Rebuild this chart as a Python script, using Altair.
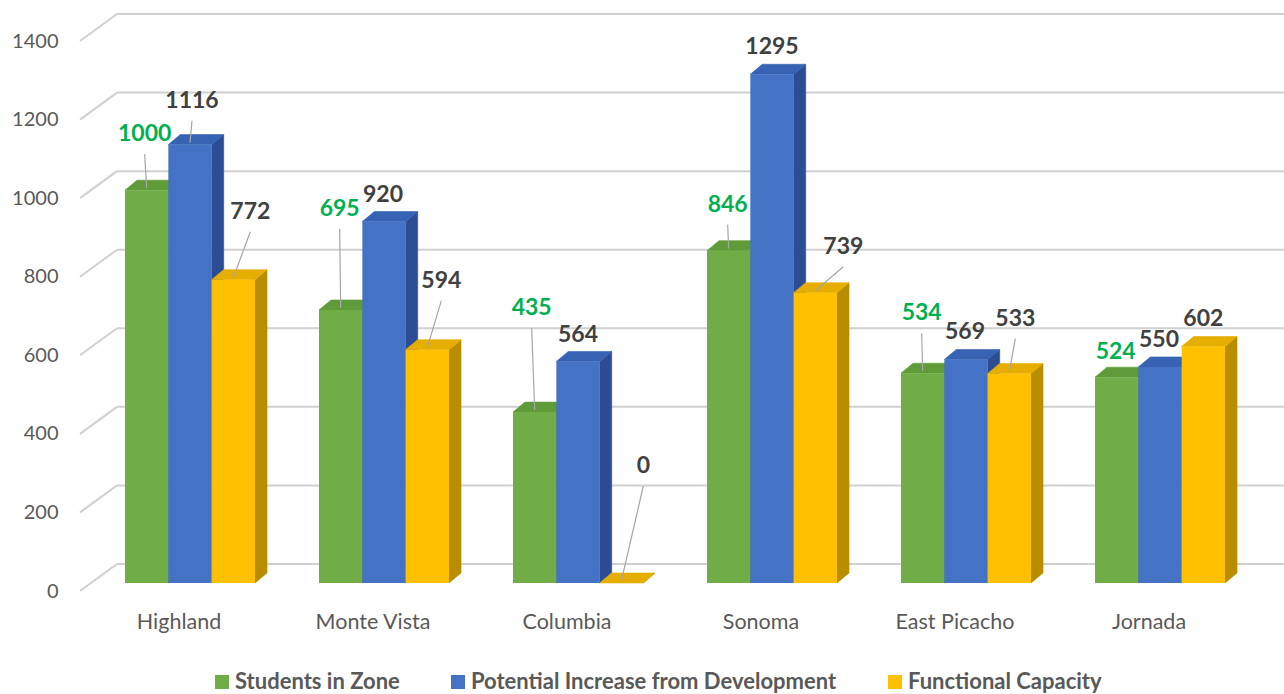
import altair as alt
import pandas as pd

# ---------------- data ----------------
categories = ["Highland", "Monte Vista", "Columbia", "Sonoma", "East Picacho", "Jornada"]
series_names = ["Students in Zone", "Potential Increase from Development", "Functional Capacity"]
students = [1000, 695, 435, 846, 534, 524]
potential = [1116, 920, 564, 1295, 569, 550]
capacity = [772, 594, 0, 739, 533, 602]
y_ticks = [0, 200, 400, 600, 800, 1000, 1200, 1400]

# ---------------- style ----------------
front_colors = ["#70AD47", "#4472C4", "#FFC000"]
top_colors = ["#5F9C39", "#3763B4", "#E6AE00"]
side_colors = ["#4B7F2D", "#2C4D94", "#B88D00"]
label_colors = ["#00B050", "#404040", "#404040"]

# label placement relative to bar top (pixels): lift up, nudge right
label_lift = [
    [56, 101, 104, 46, 60, 25],
    [44, 27, 26, 27, 27, 27],
    [68, 69, 117, 46, 55, 28],
]
label_nudge = [
    [-2, -1, -3, -1, -1, -1],
    [2, -1, 0, 0, -1, -1],
    [17, 14, 22, 28, 6, 0],
]

W, H = 1190, 550
Y_MAX = 1400
PX = H / Y_MAX
HALF = 21.7      # half bar width in px
DX, DY = 12, 10  # 3D depth
FONT = "Lato"

rows = []
for si, (s, vals) in enumerate(zip(series_names, [students, potential, capacity])):
    for ci, c in enumerate(categories):
        v = vals[ci]
        h = v * PX
        lift = label_lift[si][ci]
        nudge = label_nudge[si][ci]
        rows.append({
            "category": c,
            "series": s,
            "value": v,
            "lift": lift,
            "nudge": nudge,
            "top_col": top_colors[si],
            "side_col": side_colors[si],
            "side_path": f"M{HALF},0 L{HALF+DX},{-DY} L{HALF+DX},{h-DY:.2f} L{HALF},{h:.2f} Z",
            "leader_path": f"M0,-2 L{nudge},{-(lift-20)}",
        })
df = pd.DataFrame(rows)
grid_df = pd.DataFrame({"v": y_ticks})

top_path = f"M{-HALF},0 L{HALF},0 L{HALF+DX},{-DY} L{-HALF+DX},{-DY} Z"

yscale = alt.Scale(domain=[0, Y_MAX], nice=False, zero=True)
yaxis = alt.Axis(values=y_ticks, format="d", grid=False, domain=False, ticks=False, tickSize=0,
                 labelPadding=22, labelOffset=8, labelFontSize=20, labelFont=FONT,
                 labelColor="#595959", title=None)
xscale = alt.Scale(domain=categories, paddingInner=0.33, paddingOuter=0.232)
xaxis = alt.Axis(domain=False, ticks=False, tickSize=0, labelPadding=28, labelOffset=-11,
                 labelFontSize=21.5, labelFont=FONT, labelColor="#595959", labelAngle=0, title=None)
X = alt.X("category:N", sort=categories, scale=xscale, axis=xaxis)
XO = alt.XOffset("series:N", sort=series_names, scale=alt.Scale(domain=series_names, paddingInner=0, paddingOuter=0))
Y = alt.Y("value:Q", scale=yscale, axis=yaxis)

base = alt.Chart(df)

grid_slant = alt.Chart(grid_df).mark_rule(color="#D0D0D0", strokeWidth=2, yOffset=8, y2Offset=-19).encode(
    x=alt.value(0), x2=alt.value(37),
    y=alt.Y("v:Q", scale=yscale, axis=yaxis), y2="v:Q")
grid_flat = alt.Chart(grid_df).mark_rule(color="#D0D0D0", strokeWidth=2, yOffset=-19, y2Offset=-19).encode(
    x=alt.value(37), x2=alt.value(W + 14),
    y=alt.Y("v:Q", scale=yscale, axis=yaxis), y2="v:Q")

sides = base.mark_point(filled=True, size=4, opacity=1, strokeWidth=0.6).encode(
    x=X, xOffset=XO, y=Y,
    shape=alt.Shape("side_path:N", scale=None),
    fill=alt.Fill("side_col:N", scale=None),
    stroke=alt.Stroke("side_col:N", scale=None))

tops = base.mark_point(filled=True, size=4, opacity=1, shape=top_path, strokeWidth=0.6).encode(
    x=X, xOffset=XO, y=Y,
    fill=alt.Fill("top_col:N", scale=None),
    stroke=alt.Stroke("top_col:N", scale=None))

fronts = base.mark_bar(opacity=1).encode(
    x=X, xOffset=XO, y=Y,
    color=alt.Color("series:N", sort=series_names,
                    scale=alt.Scale(domain=series_names, range=front_colors),
                    legend=alt.Legend(orient="none", legendX=131, legendY=638, direction="horizontal",
                                      title=None, symbolType="square", symbolSize=196,
                                      symbolStrokeWidth=0, labelFontSize=22, labelFont=FONT,
                                      labelFontWeight="bold", labelColor="#595959", labelLimit=0,
                                      columnPadding=47, labelOffset=2)))

leaders = base.transform_filter("datum.lift > 35").mark_point(
    filled=False, size=4, opacity=1, stroke="#A6A6A6", strokeWidth=1.2).encode(
    x=X, xOffset=XO, y=Y,
    shape=alt.Shape("leader_path:N", scale=None))

labels_green = base.transform_filter(alt.datum.series == series_names[0]).mark_text(
    font=FONT, fontSize=23, fontWeight="bold", color=label_colors[0], baseline="middle", align="center",
    dx=alt.ExprRef("datum.nudge"), dy=alt.ExprRef("-datum.lift")).encode(
    x=X, xOffset=XO, y=Y, text="value:Q")
labels_dark = base.transform_filter(alt.datum.series != series_names[0]).mark_text(
    font=FONT, fontSize=23, fontWeight="bold", color=label_colors[1], baseline="middle", align="center",
    dx=alt.ExprRef("datum.nudge"), dy=alt.ExprRef("-datum.lift")).encode(
    x=X, xOffset=XO, y=Y, text="value:Q")

chart = alt.layer(grid_slant, grid_flat, sides, tops, fronts, leaders, labels_green, labels_dark).properties(
    width=W, height=H,
    autosize=alt.AutoSizeParams(type="none"),
    padding={"left": 80, "top": 33, "right": 14, "bottom": 111},
    background="white",
).configure_view(stroke=None)

chart.save("out.html", embed_options={"renderer": "svg", "actions": False})
